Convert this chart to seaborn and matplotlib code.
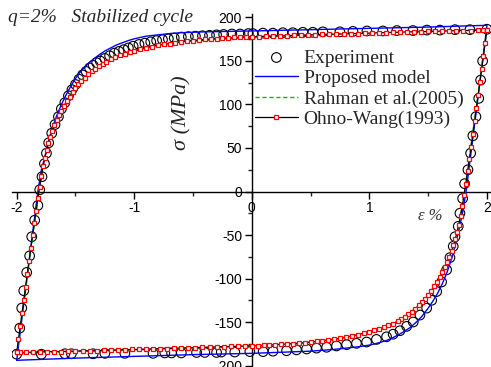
import numpy as np
import pandas as pd
import matplotlib
matplotlib.use("Agg")
import matplotlib.pyplot as plt
import seaborn as sns
from matplotlib.ticker import MultipleLocator

# --- Experiment (open circles), loading and unloading branches ---
exp_up_strain = [-2.000, -1.974, -1.957, -1.940, -1.915, -1.890, -1.872, -1.847, -1.820, -1.804,
                 -1.785, -1.764, -1.747, -1.728, -1.702, -1.674, -1.645, -1.620, -1.591, -1.560,
                 -1.530, -1.500, -1.470, -1.440, -1.410, -1.380, -1.350, -1.320, -1.290, -1.250,
                 -1.210, -1.170, -1.130, -1.090, -1.050, -1.010, -0.960, -0.910, -0.860, -0.810,
                 -0.760, -0.710, -0.660, -0.600, -0.540, -0.480, -0.420, -0.360, -0.300, -0.240,
                 -0.170, -0.100, -0.030, 0.009, 0.094, 0.179, 0.264, 0.349, 0.434, 0.519,
                 0.604, 0.749, 0.860, 0.979, 1.115, 1.234, 1.370, 1.489, 1.600, 1.728,
                 1.855, 2.000]
exp_up_stress = [-187, -157, -134, -114, -93, -74, -52, -33, -16, 2,
                 17, 32, 44, 56, 67, 77, 86, 95, 102, 110,
                 117, 123, 129, 134, 138, 142, 145, 148, 150, 153,
                 156, 159, 161, 163, 165, 167, 169, 170.5, 172, 173.5,
                 174.5, 175.5, 176.5, 177.5, 178, 178.5, 179, 179.5, 180, 180.5,
                 181, 181, 181.5, 181.5, 182, 182, 182.5, 182.5, 183, 183,
                 183.5, 183.5, 184, 184.5, 184.5, 185, 185, 185.5, 185.5, 186,
                 186, 186.5]
exp_dn_strain = [1.963, 1.946, 1.930, 1.906, 1.880, 1.861, 1.838, 1.810, 1.793,
                 1.770, 1.756, 1.728, 1.713, 1.685, 1.657, 1.614, 1.572, 1.530, 1.487,
                 1.430, 1.373, 1.317, 1.260, 1.202, 1.146, 1.060, 0.976, 0.890, 0.806,
                 0.720, 0.636, 0.550, 0.466, 0.380, 0.295, 0.180, 0.096, -0.017, -0.145,
                 -0.260, -0.300, -0.400, -0.470, -0.600, -0.683, -0.740, -0.840, -1.080, -1.250,
                 -1.350, -1.535, -1.590, -1.790]
exp_dn_stress = [150, 128, 107, 86, 64, 44, 25, 9, -8,
                 -25, -40, -52, -63, -76, -90, -104, -115, -125, -134,
                 -142, -150, -155, -160, -164, -167, -170, -173, -174.5, -176,
                 -177.5, -179, -180, -181, -182, -183, -183.5, -184, -184, -184.5,
                 -184.5, -185, -185, -185, -185.5, -185.5, -185.5, -186, -186, -186,
                 -186.5, -186.5, -186.5, -187]

# --- Proposed model (blue) ---
prop_up_strain = [-2.00, -1.95, -1.90, -1.86, -1.82, -1.79, -1.76, -1.73, -1.70, -1.66,
                  -1.62, -1.58, -1.54, -1.50, -1.45, -1.40, -1.35, -1.30, -1.25, -1.20,
                  -1.15, -1.10, -1.05, -1.00, -0.90, -0.80, -0.70, -0.60, -0.50, -0.40,
                  -0.20, 0.00, 0.50, 1.00, 1.50, 2.00]
prop_up_stress = [-194, -140, -86, -43, 0, 25, 40, 58, 72, 87,
                  100, 111, 121, 130, 139, 146, 152, 157, 161.5, 165,
                  168.5, 171, 173.5, 175.5, 178.5, 180, 181.5, 182.5, 183, 183.5,
                  184, 184.5, 186, 187.5, 189, 191]
prop_dn_strain = [2.00, 1.95, 1.90, 1.86, 1.82, 1.79, 1.76, 1.73, 1.70, 1.66,
                  1.62, 1.58, 1.54, 1.50, 1.45, 1.40, 1.35, 1.30, 1.25, 1.20,
                  1.15, 1.10, 1.05, 1.00, 0.90, 0.80, 0.70, 0.60, 0.50, 0.40,
                  0.20, 0.00, -0.50, -1.00, -1.50, -2.00]
prop_dn_stress = [191, 137, 83, 40, -2, -26, -45, -62, -77, -93,
                  -106, -117, -126, -134, -143, -150, -156, -160.5, -164.5, -168,
                  -171, -173, -175, -176.5, -178.5, -180, -181.5, -182.5, -183.5, -184,
                  -185, -186, -187.5, -189.5, -191.5, -194]

# --- Rahman et al. (2005), green dashed ---
rah_up_strain = [-2.00, -1.90, -1.81, -1.75, -1.70, -1.65, -1.60, -1.55, -1.50, -1.45,
                 -1.40, -1.35, -1.30, -1.25, -1.20, -1.10, -1.00, -0.90, -0.80, -0.70,
                 -0.60, -0.50, -0.40, -0.20, 0.00, 0.50, 1.00, 1.50, 2.00]
rah_up_stress = [-186, -88, 0, 46, 69, 85, 98, 110, 120, 128,
                 135, 141, 145, 149, 152.5, 157.5, 161.5, 165, 168, 170.5,
                 172.5, 174, 175, 176.5, 177.5, 180, 182, 184, 186.5]
rah_dn_strain = [2.00, 1.90, 1.81, 1.75, 1.70, 1.65, 1.60, 1.55, 1.50, 1.45,
                 1.40, 1.35, 1.30, 1.25, 1.20, 1.10, 1.00, 0.90, 0.80, 0.70,
                 0.60, 0.50, 0.40, 0.20, 0.00, -0.50, -1.00, -1.50, -2.00]
rah_dn_stress = [186.5, 89, 0, -45, -68, -85, -98, -110, -120, -128,
                 -135, -140.5, -145, -149, -152.5, -157.5, -161, -164.5, -167.5, -170,
                 -172, -173.5, -174.5, -176, -177.5, -180, -182, -184, -186]

# --- Ohno-Wang (1993), black line with red squares ---
ow_up_strain = [-2.000, -1.985, -1.970, -1.955, -1.940, -1.925, -1.910, -1.895, -1.880, -1.865,
                -1.850, -1.835, -1.820, -1.805, -1.790, -1.775, -1.760, -1.745, -1.730, -1.715,
                -1.700, -1.680, -1.660, -1.640, -1.620, -1.600, -1.575, -1.550, -1.525, -1.500,
                -1.475, -1.450, -1.420, -1.390, -1.360, -1.330, -1.300, -1.270, -1.240, -1.200,
                -1.160, -1.120, -1.080, -1.040, -1.000, -0.950, -0.900, -0.850, -0.800, -0.750,
                -0.700, -0.650, -0.600, -0.550, -0.500, -0.450, -0.400, -0.350, -0.300, -0.250,
                -0.200, -0.150, -0.100, -0.050, 0.000,
                0.06, 0.12, 0.18, 0.24, 0.30, 0.36, 0.42, 0.48, 0.54, 0.60,
                0.66, 0.72, 0.78, 0.84, 0.90, 0.96, 1.02, 1.08, 1.14, 1.20,
                1.26, 1.32, 1.38, 1.44, 1.50, 1.56, 1.62, 1.68, 1.74, 1.80,
                1.86, 1.92, 1.97, 2.00]
ow_up_stress = [-185, -170, -155, -140, -125, -110, -95, -80, -65, -50,
                -36, -22, -8, 5, 18, 29, 39, 48, 56, 63,
                69, 76, 82, 88, 93, 98, 104, 109, 114, 119,
                123, 127, 131, 135, 138, 141, 144, 146.5, 149, 152,
                154.5, 156.5, 158.5, 160, 161.5, 163.5, 165, 166.5, 168, 169,
                170, 171, 172, 172.8, 173.5, 174.2, 174.8, 175.3, 175.8, 176.2,
                176.6, 177, 177.3, 177.6, 178,
                178, 178.5, 178.5, 179, 179, 179.5, 179.5, 180, 180, 180.5,
                180.5, 181, 181, 181.5, 181.5, 182, 182, 182.5, 182.5, 183,
                183, 183.5, 183.5, 183.5, 184, 184, 184.5, 184.5, 185, 185,
                185, 185.5, 185.5, 186]
ow_dn_strain = [2.000, 1.985, 1.970, 1.955, 1.940, 1.925, 1.910, 1.895, 1.880, 1.865,
                1.850, 1.835, 1.820, 1.805, 1.790, 1.775, 1.760, 1.745, 1.730, 1.715,
                1.700, 1.680, 1.660, 1.640, 1.620, 1.600, 1.575, 1.550, 1.525, 1.500,
                1.475, 1.450, 1.420, 1.390, 1.360, 1.330, 1.300, 1.270, 1.240, 1.200,
                1.160, 1.120, 1.080, 1.040, 1.000, 0.950, 0.900, 0.850, 0.800, 0.750,
                0.700, 0.650, 0.600, 0.550, 0.500, 0.450, 0.400, 0.350, 0.300, 0.250,
                0.200, 0.150, 0.100, 0.050, 0.000,
                -0.06, -0.12, -0.18, -0.24, -0.30, -0.36, -0.42, -0.48, -0.54, -0.60,
                -0.66, -0.72, -0.78, -0.84, -0.90, -0.96, -1.02, -1.08, -1.14, -1.20,
                -1.26, -1.32, -1.38, -1.44, -1.50, -1.56, -1.62, -1.68, -1.74, -1.80,
                -1.86, -1.92, -1.97, -2.00]
ow_dn_stress = [186, 171, 156, 141, 126, 111, 96, 81, 66, 51,
                37, 23, 9, -4, -17, -28, -38, -47, -55, -62,
                -68, -75, -81, -87, -93, -98, -104, -109, -114, -119,
                -123, -127, -131, -134.5, -138, -141, -144, -146.5, -149, -152,
                -154, -156, -158, -159.5, -161, -163, -164.5, -166, -167.5, -168.5,
                -169.5, -170.5, -171.5, -172.3, -173, -173.7, -174.3, -174.8, -175.3, -175.7,
                -176.1, -176.5, -176.8, -177.1, -177.4,
                -177.5, -178, -178, -178.5, -178.5, -179, -179, -179.5, -179.5, -180,
                -180, -180.5, -180.5, -181, -181, -181.5, -181.5, -182, -182, -182.5,
                -182.5, -183, -183, -183, -183.5, -183.5, -184, -184, -184, -184.5,
                -184.5, -185, -185, -185]


def loop_frame(up_x, up_y, dn_x, dn_y):
    return pd.DataFrame({"strain": list(up_x) + list(dn_x),
                         "stress": list(up_y) + list(dn_y)})


exp_df = loop_frame(exp_up_strain, exp_up_stress, exp_dn_strain, exp_dn_stress)
prop_df = loop_frame(prop_up_strain, prop_up_stress, prop_dn_strain, prop_dn_stress)
rah_df = loop_frame(rah_up_strain, rah_up_stress, rah_dn_strain, rah_dn_stress)
ow_df = loop_frame(ow_up_strain, ow_up_stress, ow_dn_strain, ow_dn_stress)

sns.set_style("ticks")
plt.rcParams["font.family"] = ["Liberation Sans", "DejaVu Sans"]
serif = ["Liberation Serif", "DejaVu Serif"]

fig = plt.figure(figsize=(4.91, 3.67), dpi=100)
ax = fig.add_axes([12 / 491, 0.0, 478.5 / 491, 353 / 367])

sns.scatterplot(data=exp_df, x="strain", y="stress", ax=ax, marker="o", s=48,
                facecolor="none", edgecolor="black", linewidth=0.8,
                label="Experiment", zorder=2)
sns.lineplot(data=prop_df, x="strain", y="stress", ax=ax, sort=False, estimator=None,
             color="#0000ff", linewidth=1.0, label="Proposed model", zorder=3)
sns.lineplot(data=rah_df, x="strain", y="stress", ax=ax, sort=False, estimator=None,
             color="#22aa22", linewidth=1.0, linestyle=(0, (3, 2)),
             label="Rahman et al.(2005)", zorder=3)
sns.lineplot(data=ow_df, x="strain", y="stress", ax=ax, sort=False, estimator=None,
             color="black", linewidth=0.9, marker="s", markersize=3,
             markerfacecolor="white", markeredgecolor="red", markeredgewidth=0.9,
             label="Ohno-Wang(1993)", zorder=4)

ax.set_xlim(-2.04, 2.03)
ax.set_ylim(-201.7, 204)
ax.set_xlabel("")
ax.set_ylabel("")

for side in ["top", "right"]:
    ax.spines[side].set_visible(False)
ax.spines["left"].set_position(("data", 0))
ax.spines["bottom"].set_position(("data", 0))
for side in ["left", "bottom"]:
    ax.spines[side].set_linewidth(1.0)
    ax.spines[side].set_color("black")

ax.xaxis.set_major_locator(MultipleLocator(1))
ax.xaxis.set_minor_locator(MultipleLocator(0.5))
ax.yaxis.set_major_locator(MultipleLocator(50))
ax.yaxis.set_minor_locator(MultipleLocator(25))
ax.tick_params(axis="both", which="major", direction="out", length=5, width=1.0,
               labelsize=10, colors="black", pad=2)
ax.tick_params(axis="both", which="minor", direction="out", length=3, width=1.0)
ax.set_xticks([-2, -1, 0, 1, 2])
ax.set_xticklabels(["-2", "-1", "0", "1", "2"])
ax.set_yticks(range(-200, 201, 50))
ax.set_yticklabels([str(v) for v in range(-200, 201, 50)])

handles, labels = ax.get_legend_handles_labels()
ax.legend(handles, labels, loc="upper left", bbox_to_anchor=(255 / 491, 1 - 49 / 367),
          bbox_transform=fig.transFigure, frameon=False,
          prop={"family": serif, "size": 14}, handlelength=2.2, handletextpad=0.3,
          labelspacing=0.15, borderpad=0, borderaxespad=0, scatterpoints=1)

fig.text(8 / 491, 1 - 17 / 367, "q=2%   Stabilized cycle", family=serif, style="italic",
         size=14, ha="left", va="center")
fig.text(182 / 491, 1 - 113 / 367, "σ (MPa)", family=serif, style="italic", size=16,
         rotation=90, ha="center", va="center")
fig.text(430 / 491, 1 - 216 / 367, "ε %", family=serif, style="italic", size=12,
         color="#333333", ha="center", va="center")

fig.savefig("out.png", dpi=100)
